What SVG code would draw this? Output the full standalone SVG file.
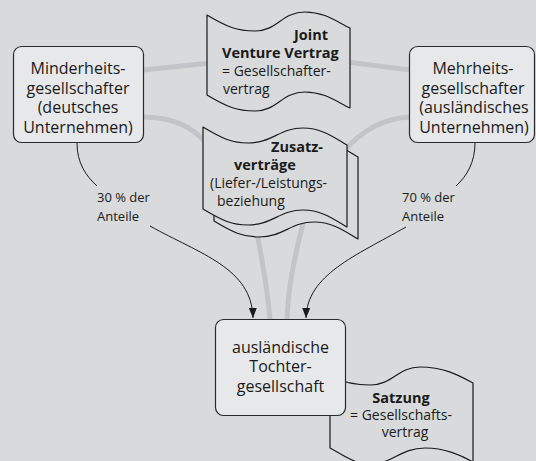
<svg xmlns="http://www.w3.org/2000/svg" width="536" height="461" viewBox="0 0 536 461">
<defs>
<style>
.bg{fill:#d9dadc}
.gc{fill:none;stroke:#c3c4c7;stroke-width:5;stroke-linecap:butt}
.doc{fill:#d9dadc;stroke:#1a1a1a;stroke-width:1.2;stroke-linejoin:round}
.node{fill:#e7e8ea;stroke:#2a2a2a;stroke-width:1.2}
.arr{fill:none;stroke:#1a1a1a;stroke-width:1}
.nt{font-family:"Open Sans","Noto Sans",sans-serif;font-size:16px;fill:#1a1a1a;text-anchor:middle}
.dt{font-family:"Open Sans","Noto Sans",sans-serif;font-size:14px;fill:#1a1a1a}
.b{font-weight:bold;font-size:14.5px}
.lt{font-family:"Open Sans","Noto Sans",sans-serif;font-size:13px;fill:#1a1a1a}
</style>
<marker id="ah" markerUnits="userSpaceOnUse" markerWidth="10" markerHeight="8" refX="10" refY="4" orient="auto">
<path d="M0,0 L10,4 L0,8 z" fill="#1a1a1a"/>
</marker>
</defs>
<rect class="bg" x="0" y="0" width="536" height="461"/>

<g id="connectors">
<path class="gc" d="M143,70 L210,63"/>
<path class="gc" d="M347,62 L410,70"/>
<path class="gc" d="M143,117 C170,117 192,125 208,145"/>
<path class="gc" d="M410,117 C385,118 362,130 343,152"/>
<path class="gc" d="M255,222 C262,260 268,290 270,320"/>
<path class="gc" d="M306,212 C296,250 288,285 287,320"/>
</g>

<g id="doc-joint-venture">
<path class="doc" d="M207,15 C227,27 237,31 255,31 C277,31 282,12 305,12 C325,12 337,22 350,28 L350,108 C337,102 325,92 305,92 C282,92 277,111 255,111 C237,111 227,107 207,95 Z"/>
<text class="dt b" x="328" y="40" text-anchor="end">Joint</text>
<text class="dt b" x="222" y="58">Venture Vertrag</text>
<text class="dt" x="222" y="76">= Gesellschafter-</text>
<text class="dt" x="223" y="94">vertrag</text>
</g>

<g id="doc-zusatzvertraege">
<path class="doc" transform="translate(11,12)" d="M203,127 C223,139 232,143 248,143 C272,143 280,128 303,128 C322,128 335,138 347,145 L347,227 C335,220 322,210 303,210 C280,210 272,225 248,225 C232,225 223,221 203,209 Z"/>
<path class="doc" d="M203,127 C223,139 232,143 248,143 C272,143 280,128 303,128 C322,128 335,138 347,145 L347,227 C335,220 322,210 303,210 C280,210 272,225 248,225 C232,225 223,221 203,209 Z"/>
<text class="dt b" x="323" y="152" text-anchor="end">Zusatz-</text>
<text class="dt b" x="234" y="170">verträge</text>
<text class="dt" x="210" y="188">(Liefer-/Leistungs-</text>
<text class="dt" x="217" y="206">beziehung</text>
</g>

<g id="doc-satzung">
<path class="doc" d="M330,377 C345,383 355,385 370,385 C393,385 398,367 420,367 C445,367 460,376 473,383 L473,462 C460,455 445,448 425,448 C400,448 393,464 370,464 C355,464 345,456 330,448 Z"/>
<text class="dt b" x="401" y="403" text-anchor="middle">Satzung</text>
<text class="dt" x="401" y="420" text-anchor="middle">= Gesellschafts-</text>
<text class="dt" x="405" y="437" text-anchor="middle">vertrag</text>
</g>

<g id="node-minderheit">
<rect class="node" x="13.5" y="46.5" width="130" height="96" rx="8"/>
<text class="nt" x="78" y="74">Minderheits-</text>
<text class="nt" x="78" y="94">gesellschafter</text>
<text class="nt" x="78" y="113">(deutsches</text>
<text class="nt" x="78" y="133">Unternehmen)</text>
</g>

<g id="node-mehrheit">
<rect class="node" x="409.5" y="46.5" width="125" height="96" rx="8"/>
<text class="nt" x="473" y="74">Mehrheits-</text>
<text class="nt" x="473" y="94">gesellschafter</text>
<text class="nt" x="474" y="113">(ausländisches</text>
<text class="nt" x="474" y="133">Unternehmen)</text>
</g>

<g id="node-tochter">
<rect class="node" x="215.5" y="319.5" width="130" height="96" rx="8"/>
<text class="nt" x="280.5" y="353">ausländische</text>
<text class="nt" x="280.5" y="372">Tochter-</text>
<text class="nt" x="280.5" y="392">gesellschaft</text>
</g>

<g id="arrows">
<path class="arr" d="M77,143 C77,163 86,176 97,186"/>
<path class="arr" d="M150,226 C200,254 252,268 253,318" marker-end="url(#ah)"/>
<path class="arr" d="M475,143 C475,162 467,176 456,186"/>
<path class="arr" d="M406,227 C355,256 307,275 306,318" marker-end="url(#ah)"/>
</g>

<g id="labels">
<text class="lt" x="97" y="202">30 % der</text>
<text class="lt" x="97" y="221">Anteile</text>
<text class="lt" x="402" y="202">70 % der</text>
<text class="lt" x="402" y="221">Anteile</text>
</g>
</svg>
